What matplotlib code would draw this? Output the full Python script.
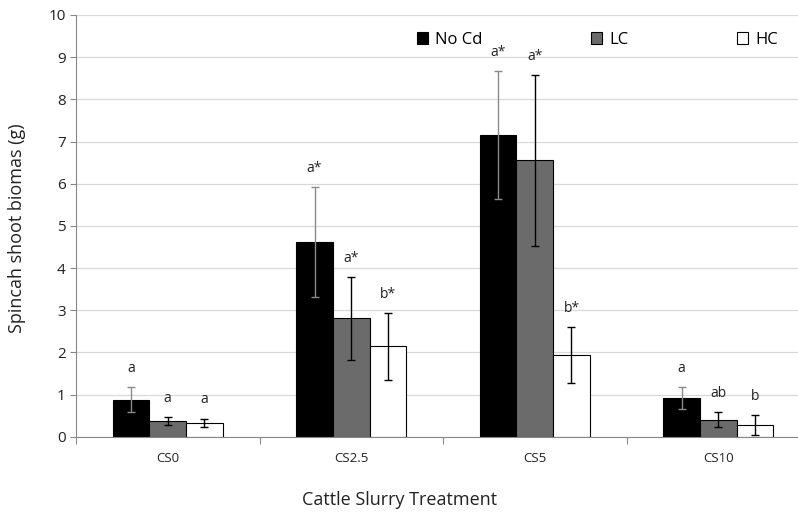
import numpy as np
import matplotlib
matplotlib.use('Agg')
import matplotlib.pyplot as plt

plt.rcParams['font.family'] = ['Open Sans', 'DejaVu Sans']

categories = ["CS0", "CS2.5", "CS5", "CS10"]
series = ["No Cd", "LC", "HC"]
no_cd = [0.88, 4.62, 7.15, 0.92]
no_cd_err = [0.29, 1.30, 1.52, 0.26]
lc = [0.37, 2.81, 6.55, 0.40]
lc_err = [0.09, 0.98, 2.02, 0.18]
hc = [0.33, 2.14, 1.93, 0.27]
hc_err = [0.10, 0.80, 0.66, 0.24]
letters_no_cd = ["a", "a*", "a*", "a"]
letters_lc = ["a", "a*", "a*", "ab"]
letters_hc = ["a", "b*", "b*", "b"]

fig = plt.figure(figsize=(7.98, 5.12), dpi=100)
ax = fig.add_axes([76/798, 1-436.7/512, 734/798, (436.7-15)/512])

x = np.arange(len(categories))
w = 0.2
vals = [no_cd, lc, hc]
errs = [no_cd_err, lc_err, hc_err]
letters = [letters_no_cd, letters_lc, letters_hc]
colors = ["black", "#6b6b6b", "white"]
ecolors = ["#8a8a8a", "black", "black"]

for i in range(3):
    pos = x + (i - 1) * w
    ax.bar(pos, vals[i], w, color=colors[i], edgecolor="black", linewidth=0.8,
           label=series[i], zorder=2)
    ax.errorbar(pos, vals[i], yerr=errs[i], fmt="none", ecolor=ecolors[i],
                elinewidth=1, capsize=3, capthick=1, zorder=3)
    for p, v, e, t in zip(pos, vals[i], errs[i], letters[i]):
        ax.annotate(t, (p, v + e), xytext=(0, 8), textcoords="offset points",
                    ha="center", va="bottom", fontsize=10, color="#222222")

ax.set_ylim(0, 10)
ax.set_xlim(-0.5, 3.5)
ax.set_yticks(range(0, 11))
ax.tick_params(axis="y", labelsize=11, length=4, color="#888888", colors="#222222")
ax.set_xticks(np.arange(-0.5, 3.6, 1))
ax.set_xticklabels([])
ax.set_xticks(x, minor=True)
ax.set_xticklabels(categories, minor=True, fontsize=9.5, color="#222222")
ax.tick_params(axis="x", which="major", length=5, color="#888888")
ax.tick_params(axis="x", which="minor", length=0, pad=11)
ax.grid(axis="y", color="#d9d9d9", linewidth=0.9, zorder=0)
ax.set_axisbelow(True)
for s in ["top", "right"]:
    ax.spines[s].set_visible(False)
ax.spines["left"].set_color("#888888")
ax.spines["bottom"].set_color("#888888")

fig.text(17/798, 1-228/512, "Spincah shoot biomas (g)", rotation=90,
         ha="center", va="center", fontsize=13, color="#222222")
fig.text(400/798, 1-500/512, "Cattle Slurry Treatment", ha="center",
         va="center", fontsize=13, color="#222222")

ax.legend(loc="center left", bbox_to_anchor=((410-76)/734, (436.7-40)/421.7),
          ncol=3, frameon=False, fontsize=12, handlelength=0.7, handleheight=0.7,
          handletextpad=0.4, columnspacing=6.5, borderaxespad=0)

fig.savefig("out.png", dpi=100)
